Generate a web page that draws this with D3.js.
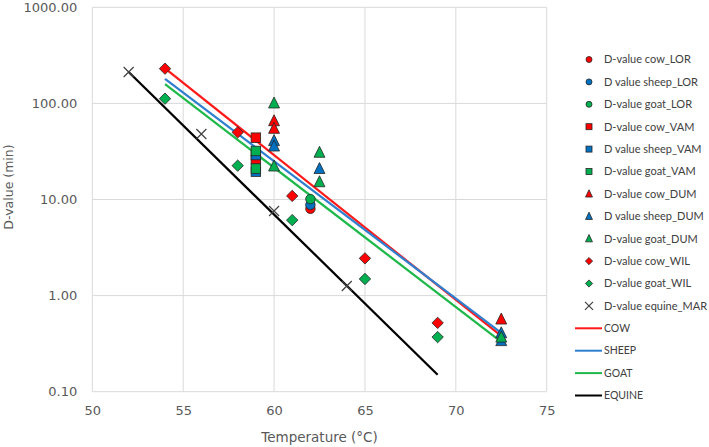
<!DOCTYPE html>
<html><head><meta charset="utf-8">
<script src="https://cdn.jsdelivr.net/npm/d3@7"></script>
<style>body{margin:0;background:#fff}svg{display:block}</style>
</head><body>
<svg id="c" width="709" height="447"></svg>
<script>
// ---- data ----
const xTicks = [50, 55, 60, 65, 70, 75];
const yTicks = [0.1, 1, 10, 100, 1000];

const cowLOR_T = [62], cowLOR_V = [8.0];
const sheepLOR_T = [62], sheepLOR_V = [8.8];
const goatLOR_T = [62], goatLOR_V = [10.1];
const cowVAM_T = [59, 59], cowVAM_V = [44, 26];
const sheepVAM_T = [59, 59], sheepVAM_V = [29, 19.5];
const goatVAM_T = [59, 59], goatVAM_V = [32, 21];
const cowDUM_T = [60, 60, 72.5], cowDUM_V = [66, 55, 0.57];
const sheepDUM_T = [60, 60, 62.5, 72.5, 72.5], sheepDUM_V = [41, 36, 21, 0.41, 0.34];
const goatDUM_T = [60, 60, 62.5, 62.5, 72.5], goatDUM_V = [101, 22.3, 31, 15.3, 0.37];
const cowWIL_T = [54, 58, 61, 65, 69], cowWIL_V = [230, 50, 10.9, 2.44, 0.52];
const goatWIL_T = [54, 58, 61, 65, 69], goatWIL_V = [112, 22.5, 6.1, 1.49, 0.37];
const equineMAR_T = [52, 56, 60, 64], equineMAR_V = [212, 48, 7.6, 1.26];

const cowLine_T = [54, 72.5], cowLine_V = [232, 0.38];
const sheepLine_T = [54, 72.5], sheepLine_V = [180, 0.41];
const goatLine_T = [54, 72.5], goatLine_V = [159, 0.33];
const equineLine_T = [52, 69], equineLine_V = [212, 0.15];

const RED = "#ff0000", BLUE = "#0070c0", GREEN = "#00b050";

const scatter = [
  {name: "D-value cow_LOR", t: cowLOR_T, v: cowLOR_V, shape: "circle", color: RED},
  {name: "D value sheep_LOR", t: sheepLOR_T, v: sheepLOR_V, shape: "circle", color: BLUE},
  {name: "D-value goat_LOR", t: goatLOR_T, v: goatLOR_V, shape: "circle", color: GREEN},
  {name: "D-value cow_VAM", t: cowVAM_T, v: cowVAM_V, shape: "square", color: RED},
  {name: "D value sheep_VAM", t: sheepVAM_T, v: sheepVAM_V, shape: "square", color: BLUE},
  {name: "D-value goat_VAM", t: goatVAM_T, v: goatVAM_V, shape: "square", color: GREEN},
  {name: "D-value cow_DUM", t: cowDUM_T, v: cowDUM_V, shape: "triangle", color: RED},
  {name: "D value sheep_DUM", t: sheepDUM_T, v: sheepDUM_V, shape: "triangle", color: BLUE},
  {name: "D-value goat_DUM", t: goatDUM_T, v: goatDUM_V, shape: "triangle", color: GREEN},
  {name: "D-value cow_WIL", t: cowWIL_T, v: cowWIL_V, shape: "diamond", color: RED},
  {name: "D-value goat_WIL", t: goatWIL_T, v: goatWIL_V, shape: "diamond", color: GREEN},
  {name: "D-value equine_MAR", t: equineMAR_T, v: equineMAR_V, shape: "x", color: "#404040"}
];
const lines = [
  {name: "COW", t: cowLine_T, v: cowLine_V, color: "#ff1a1a"},
  {name: "SHEEP", t: sheepLine_T, v: sheepLine_V, color: "#2f7fd0"},
  {name: "GOAT", t: goatLine_T, v: goatLine_V, color: "#1fb84a"},
  {name: "EQUINE", t: equineLine_T, v: equineLine_V, color: "#000000"}
];

// ---- layout ----
const svg = d3.select("#c");
const L = 92.3, R = 546.7, T = 7.3, B = 391.7;
const x = d3.scaleLinear().domain([50, 75]).range([L, R]);
const y = d3.scaleLog().domain([0.1, 1000]).range([B, T]);

// grid
const g = svg.append("g");
g.selectAll(".vg").data(xTicks).enter().append("line")
  .attr("x1", d => x(d)).attr("x2", d => x(d)).attr("y1", T).attr("y2", B)
  .attr("stroke", "#d9d9d9").attr("stroke-width", 1);
g.selectAll(".hg").data(yTicks).enter().append("line")
  .attr("x1", L).attr("x2", R).attr("y1", d => y(d)).attr("y2", d => y(d))
  .attr("stroke", "#d9d9d9").attr("stroke-width", 1);

// axes
const xAxis = d3.axisBottom(x).tickValues(xTicks).tickSize(0).tickPadding(14).tickFormat(d3.format("d"));
const xa = svg.append("g").attr("transform", `translate(0,${B})`).call(xAxis);
xa.select(".domain").remove();
xa.selectAll("text").attr("font-family", "DejaVu Sans").attr("font-size", "13px").attr("fill", "#595959");

const yAxis = d3.axisLeft(y).tickValues(yTicks).tickSize(0).tickPadding(15).tickFormat(d3.format(".2f"));
const ya = svg.append("g").attr("transform", `translate(${L},0)`).call(yAxis);
ya.select(".domain").remove();
ya.selectAll("text").attr("font-family", "DejaVu Sans").attr("font-size", "13px").attr("fill", "#595959");

svg.append("text").attr("x", (L + R) / 2).attr("y", 442).attr("text-anchor", "middle")
  .attr("font-family", "DejaVu Sans").attr("font-size", "13.5px").attr("fill", "#595959")
  .text("Temperature (°C)");
svg.append("text").attr("transform", "translate(13,187) rotate(-90)").attr("text-anchor", "middle")
  .attr("font-family", "DejaVu Sans").attr("font-size", "12.5px").attr("fill", "#595959")
  .text("D-value (min)");

// regression lines
const lineGen = d3.line().x(d => x(d[0])).y(d => y(d[1]));
svg.append("g").selectAll("path").data(lines).enter().append("path")
  .attr("d", s => lineGen(s.t.map((t, i) => [t, s.v[i]])))
  .attr("fill", "none").attr("stroke", s => s.color).attr("stroke-width", 2.25);

// markers
function drawMarker(sel, shape, color, size) {
  const st = "#262626", sw = 0.8;
  if (shape === "circle") {
    sel.append("circle").attr("r", size / 2).attr("fill", color).attr("stroke", st).attr("stroke-width", sw);
  } else if (shape === "square") {
    sel.append("rect").attr("x", -size / 2).attr("y", -size / 2).attr("width", size).attr("height", size)
      .attr("fill", color).attr("stroke", st).attr("stroke-width", sw);
  } else if (shape === "triangle") {
    const h = size * 1.05, w = size * 1.15;
    sel.append("path").attr("d", `M0,${-h / 2 - 1}L${w / 2},${h / 2}L${-w / 2},${h / 2}Z`)
      .attr("fill", color).attr("stroke", st).attr("stroke-width", sw);
  } else if (shape === "diamond") {
    const r = size * 0.6;
    sel.append("path").attr("d", `M0,${-r}L${r},0L0,${r}L${-r},0Z`)
      .attr("fill", color).attr("stroke", st).attr("stroke-width", sw);
  } else if (shape === "x") {
    const r = size * 0.5;
    sel.append("path").attr("d", `M${-r},${-r}L${r},${r}M${r},${-r}L${-r},${r}`)
      .attr("fill", "none").attr("stroke", color).attr("stroke-width", 1.2);
  }
}

const mg = svg.append("g");
scatter.forEach(s => {
  s.t.forEach((t, i) => {
    const m = mg.append("g").attr("transform", `translate(${x(t)},${y(s.v[i])})`);
    drawMarker(m, s.shape, s.color, s.shape === "x" ? 10 : 9.5);
  });
});

// legend
const lg = svg.append("g");
const row0 = 59.5, step = 22.4;
scatter.forEach((s, i) => {
  const yy = row0 + i * step;
  const m = lg.append("g").attr("transform", `translate(589,${yy})`);
  drawMarker(m, s.shape, s.color, s.shape === "x" ? 8 : 6);
  lg.append("text").attr("x", 604).attr("y", yy).attr("dy", "0.35em")
    .attr("font-family", "Lato").attr("font-size", "11px").attr("fill", "#404040").text(s.name);
});
lines.forEach((s, j) => {
  const yy = row0 + (scatter.length + j) * step;
  lg.append("line").attr("x1", 575).attr("x2", 602).attr("y1", yy).attr("y2", yy)
    .attr("stroke", s.color).attr("stroke-width", 2);
  lg.append("text").attr("x", 604).attr("y", yy).attr("dy", "0.35em")
    .attr("font-family", "Lato").attr("font-size", "10.5px").attr("fill", "#404040").text(s.name);
});
</script>
</body></html>
